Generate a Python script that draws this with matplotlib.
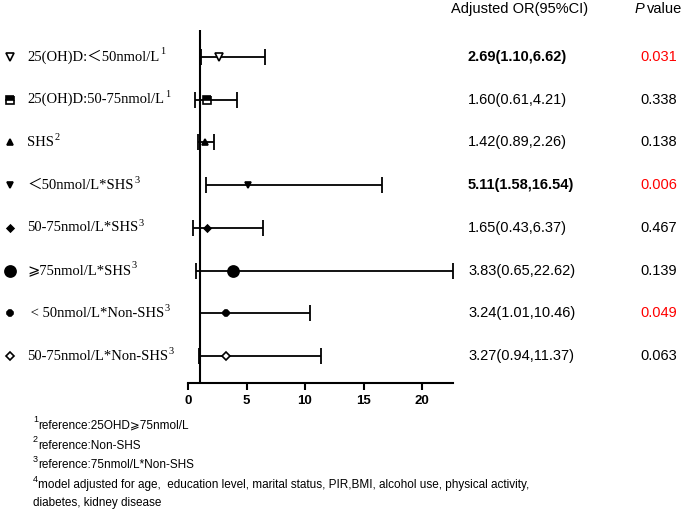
import matplotlib
matplotlib.use("Agg")
import matplotlib.pyplot as plt
import matplotlib.transforms as mtransforms

# data
labels = ["25(OH)D:\uFF1C50nmol/L", "25(OH)D:50-75nmol/L", "SHS",
          "\uFF1C50nmol/L*SHS", "50-75nmol/L*SHS", "\u2A7E75nmol/L*SHS",
          " < 50nmol/L*Non-SHS", "50-75nmol/L*Non-SHS"]
label_sup = ["1", "1", "2", "3", "3", "3", "3", "3"]
odds = [2.69, 1.60, 1.42, 5.11, 1.65, 3.83, 3.24, 3.27]
ci_low = [1.10, 0.61, 0.89, 1.58, 0.43, 0.65, 1.01, 0.94]
ci_high = [6.62, 4.21, 2.26, 16.54, 6.37, 22.62, 10.46, 11.37]
p_values = ["0.031", "0.338", "0.138", "0.006", "0.467", "0.139", "0.049", "0.063"]
significant = [True, False, False, True, False, False, True, False]
bold_or = [True, False, False, True, False, False, False, False]
x_ticks = [0, 5, 10, 15, 20]
footnotes = [("1", "reference:25OHD\u2A7E75nmol/L"),
             ("2", "reference:Non-SHS"),
             ("3", "reference:75nmol/L*Non-SHS"),
             ("4", "model adjusted for age,  education level, marital status, PIR,BMI, alcohol use, physical activity,"),
             ("", "diabetes, kidney disease")]

# marker style per row: (marker, size, facecolor, fillstyle)
styles = [("v", 6, "white", "full"), ("s", 6, "black", "top"), ("^", 5, "black", "full"),
          ("v", 5, "black", "full"), ("D", 3.5, "black", "full"), ("o", 8, "black", "full"),
          ("8", 4.5, "black", "full"), ("D", 4.5, "white", "full")]

W, H = 685, 513
fig = plt.figure(figsize=(W / 100, H / 100), dpi=100)

serif = ["Liberation Serif", "Noto Sans CJK SC", "DejaVu Sans"]
sans = ["Liberation Sans", "Noto Sans CJK SC", "DejaVu Sans"]

x_right = 188 + 22.62 * 11.7
ax = fig.add_axes([188 / W, 1 - 383 / H, (x_right - 188) / W, (383 - 30) / H])
n = len(labels)
ax.set_xlim(0, 22.62)
ax.set_ylim(n - 1 + 0.63, -0.63)

for i in range(n):
    m, ms, fc, fs = styles[i]
    ax.errorbar(odds[i], i, xerr=[[odds[i] - ci_low[i]], [ci_high[i] - odds[i]]],
                fmt="none", ecolor="black", elinewidth=1.3, capsize=6, capthick=1.3)
    ax.plot(odds[i], i, marker=m, markersize=ms, markerfacecolor=fc,
            markerfacecoloralt="white", fillstyle=fs, markeredgecolor="black",
            markeredgewidth=1.2, linestyle="none", zorder=3)

ax.axvline(1, color="black", linewidth=1.5, zorder=1)
for s in ["left", "right", "top"]:
    ax.spines[s].set_visible(False)
ax.spines["bottom"].set_linewidth(1.5)
ax.set_yticks([])
ax.set_xticks(x_ticks)
ax.tick_params(axis="x", direction="out", length=5, width=1.5, pad=4)
for t in ax.get_xticklabels():
    t.set_fontfamily(sans)
    t.set_fontweight("bold")
    t.set_fontsize(9.5)

# left strip for the legend markers
lax = fig.add_axes([0, 1 - 383 / H, 22 / W, (383 - 30) / H])
lax.set_xlim(0, 1)
lax.set_ylim(n - 1 + 0.63, -0.63)
lax.axis("off")
for i in range(n):
    m, ms, fc, fs = styles[i]
    lax.plot(0.45, i, marker=m, markersize=ms, markerfacecolor=fc,
             markerfacecoloralt="white", fillstyle=fs, markeredgecolor="black",
             markeredgewidth=1.2, linestyle="none")

row_tr = mtransforms.blended_transform_factory(fig.transFigure, ax.transData)

for i in range(n):
    t = fig.text(27 / W, i, labels[i], transform=row_tr, va="center", ha="left",
                 fontsize=10.5, family=serif)
    ax.annotate(label_sup[i], xy=(1, 1), xycoords=t, xytext=(0.5, 2),
                textcoords="offset points", va="top", ha="left",
                fontsize=7.5, family=serif, annotation_clip=False)
    fig.text(468 / W, i, f"{odds[i]:.2f}({ci_low[i]:.2f},{ci_high[i]:.2f})",
             transform=row_tr, va="center", ha="left", fontsize=10.5, family=sans,
             fontweight="bold" if bold_or[i] else "normal")
    fig.text(640 / W, i, p_values[i], transform=row_tr, va="center", ha="left",
             fontsize=10.5, family=sans, color="#ff0000" if significant[i] else "black")

fig.text(520 / W, 1 - 9 / H, "Adjusted OR(95%CI)", ha="center", va="center",
         fontsize=10.5, family=sans)
fig.text(635 / W, 1 - 9 / H, "P", ha="left", va="center", fontsize=10.5,
         family=sans, fontstyle="italic")
fig.text(647 / W, 1 - 9 / H, "value", ha="left", va="center", fontsize=10.5, family=sans)

foot_y = [426, 446, 465, 485, 503]
for (sup, txt), y in zip(footnotes, foot_y):
    if sup:
        fig.text(33 / W, 1 - (y - 6) / H, sup, ha="left", va="center", fontsize=6.5, family=sans)
        fig.text(38 / W, 1 - y / H, txt, ha="left", va="center", fontsize=8.5, family=sans)
    else:
        fig.text(33 / W, 1 - y / H, txt, ha="left", va="center", fontsize=8.5, family=sans)

fig.savefig("out.png", dpi=100)
